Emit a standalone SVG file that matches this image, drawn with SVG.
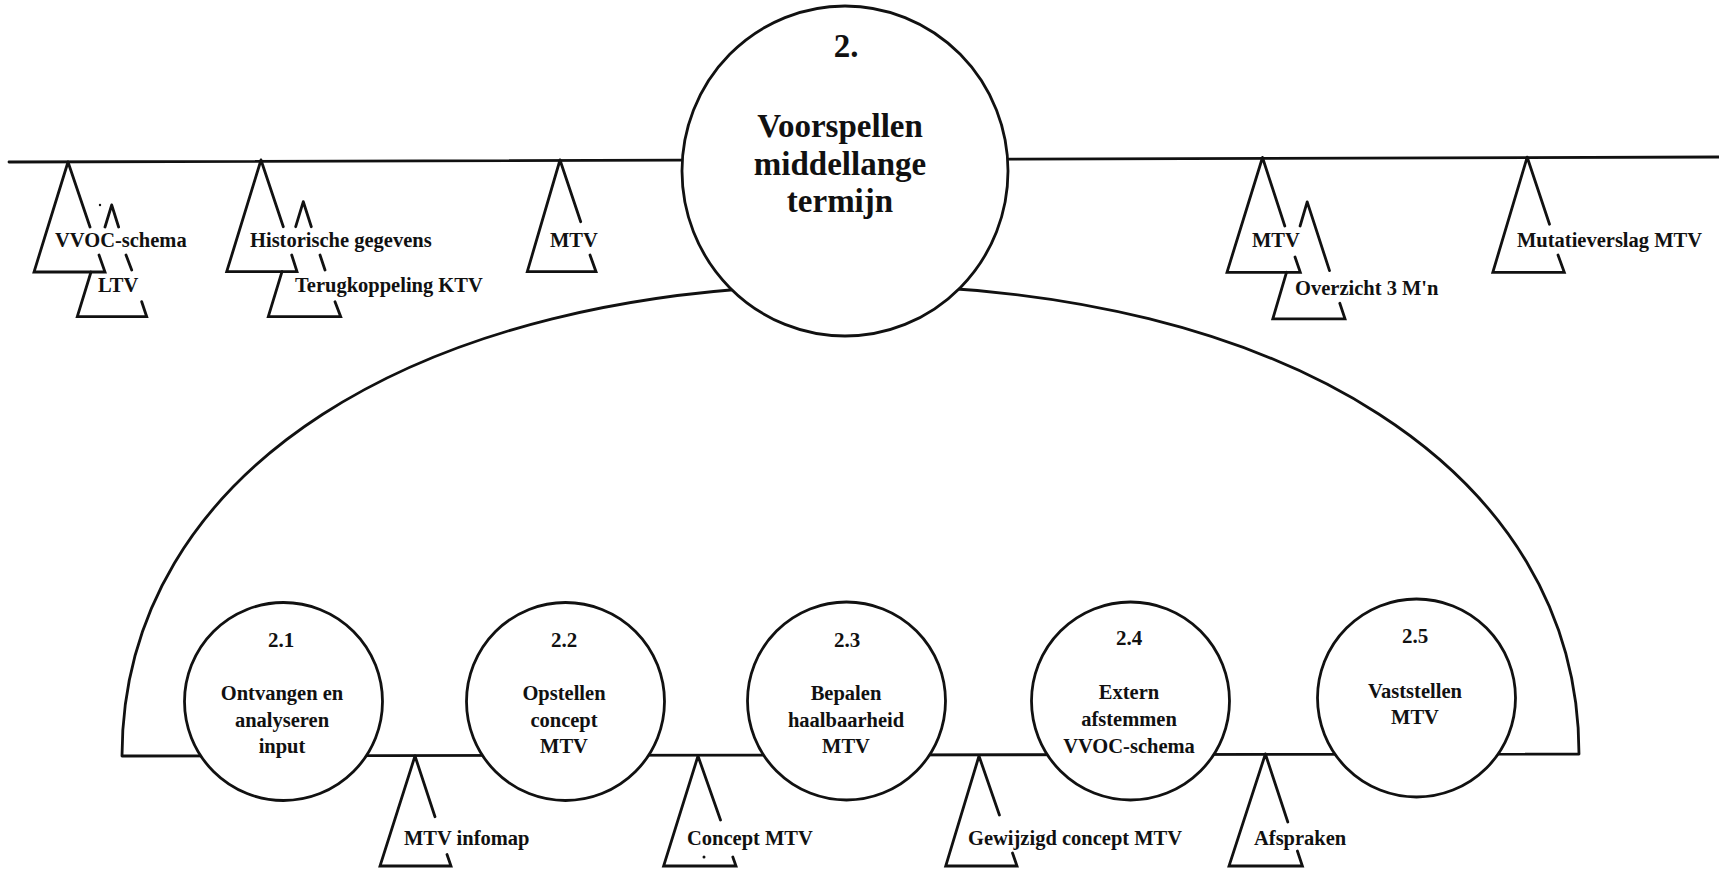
<svg xmlns="http://www.w3.org/2000/svg" width="1719" height="870" viewBox="0 0 1719 870">
  <style>
    .ln { fill: none; stroke: #111; stroke-width: 2.8; stroke-linecap: round; stroke-linejoin: round; }
    .bub { fill: #fff; stroke: #111; stroke-width: 2.8; }
    .ds { fill: none; stroke: #111; stroke-width: 2.8; stroke-linecap: round; stroke-linejoin: miter; }
    text { font-family: "Liberation Serif", "Times New Roman", serif; font-weight: bold; fill: #111; }
    .lbl { font-size: 20.5px; }
    .ttl { font-size: 33px; text-anchor: middle; }
    .num { font-size: 21px; text-anchor: middle; }
    .sub { font-size: 20.5px; text-anchor: middle; }
    .dot { fill: #111; }
  </style>

  <!-- flow lines: upper level line and the lower decomposition frame -->
  <g id="connectors">
    <path class="ln" d="M9,162 L1719,157"/>
    <path class="ln" d="M122,756 C122,473.4 413.4,285 850.5,285 C1287.6,285 1579,472.6 1579,754 L122,756 Z"/>
  </g>

  <!-- main process -->
  <g id="p2">
    <ellipse class="bub" cx="845" cy="171" rx="163" ry="165"/>
    <text class="ttl" x="846" y="57">2.</text>
    <text class="ttl" x="840" y="137">Voorspellen</text>
    <text class="ttl" x="840" y="175">middellange</text>
    <text class="ttl" x="840" y="212">termijn</text>
  </g>

  <!-- sub-processes -->
  <g id="p2-1">
    <circle class="bub" cx="283.5" cy="701.5" r="99"/>
    <text class="num" x="281" y="647">2.1</text>
    <text class="sub" x="282" y="700">Ontvangen en</text>
    <text class="sub" x="282" y="727">analyseren</text>
    <text class="sub" x="282" y="753">input</text>
  </g>
  <g id="p2-2">
    <circle class="bub" cx="565.5" cy="701.5" r="99"/>
    <text class="num" x="564" y="647">2.2</text>
    <text class="sub" x="564" y="700">Opstellen</text>
    <text class="sub" x="564" y="727">concept</text>
    <text class="sub" x="564" y="753">MTV</text>
  </g>
  <g id="p2-3">
    <circle class="bub" cx="846.5" cy="701" r="99"/>
    <text class="num" x="847" y="647">2.3</text>
    <text class="sub" x="846" y="700">Bepalen</text>
    <text class="sub" x="846" y="727">haalbaarheid</text>
    <text class="sub" x="846" y="753">MTV</text>
  </g>
  <g id="p2-4">
    <circle class="bub" cx="1130.5" cy="701" r="99"/>
    <text class="num" x="1129" y="645">2.4</text>
    <text class="sub" x="1129" y="699">Extern</text>
    <text class="sub" x="1129" y="726">afstemmen</text>
    <text class="sub" x="1129" y="753">VVOC-schema</text>
  </g>
  <g id="p2-5">
    <circle class="bub" cx="1416.5" cy="698" r="99"/>
    <text class="num" x="1415" y="643">2.5</text>
    <text class="sub" x="1415" y="698">Vaststellen</text>
    <text class="sub" x="1415" y="724">MTV</text>
  </g>

  <!-- data stores on the upper line -->
  <g id="ds-ltv">
    <path class="ds" d="M111.7,205 L105,227 M91,272 L77.3,316.7 L146.7,316.7 L141.7,301.7 M111.7,205 L118.6,227 M126,255 L131.7,270"/>
    <text class="lbl" x="98" y="292">LTV</text>
  </g>
  <g id="ds-vvoc">
    <path class="ds" d="M68,162 L34,272 L105,272 L99,255 M68,162 L90,227"/>
    <text class="lbl" x="55" y="247">VVOC-schema</text>
    <circle class="dot" cx="100" cy="205" r="1.2"/>
  </g>
  <g id="ds-terugkoppeling">
    <path class="ds" d="M303.3,201.7 L295.7,226.7 M282,271.7 L268.3,316.7 L340.7,316.7 L335,301.7 M303.3,201.7 L311.3,226.7 M320,255 L325,270"/>
    <text class="lbl" x="295" y="292">Terugkoppeling KTV</text>
  </g>
  <g id="ds-historisch">
    <path class="ds" d="M261,160 L226.7,271.7 L297,271.7 L291.7,255 M261,160 L283.3,226.7"/>
    <text class="lbl" x="250" y="247">Historische gegevens</text>
  </g>
  <g id="ds-mtv-in">
    <path class="ds" d="M560,160 L527.3,271.7 L596,271.7 L590,255 M560,160 L580.7,221.7"/>
    <text class="lbl" x="550" y="247">MTV</text>
  </g>
  <g id="ds-overzicht">
    <path class="ds" d="M1307.2,201.9 L1300.1,226 M1286.5,272.3 L1272.8,318.8 L1345,318.8 L1339.8,303.3 M1307.2,201.9 L1329.5,270.6"/>
    <text class="lbl" x="1295" y="295">Overzicht 3 M'n</text>
  </g>
  <g id="ds-mtv-out">
    <path class="ds" d="M1262.5,157.5 L1227,272.3 L1300.3,272.3 L1295,257 M1262.5,157.5 L1284.8,226"/>
    <text class="lbl" x="1252" y="247">MTV</text>
  </g>
  <g id="ds-mutatie">
    <path class="ds" d="M1527.2,157.2 L1492.8,272.3 L1564.3,272.3 L1558,255 M1527.2,157.2 L1549.5,224.2"/>
    <text class="lbl" x="1517" y="247">Mutatieverslag MTV</text>
  </g>

  <!-- data stores between the sub-processes -->
  <g id="ds-infomap">
    <path class="ds" d="M415,756 L380,866 L451,866 L447,854.5 M415,756 L435,816.7"/>
    <text class="lbl" x="404" y="845">MTV infomap</text>
  </g>
  <g id="ds-concept">
    <path class="ds" d="M698,756 L663.6,866 L736,866 L732.8,857 M698,756 L720.5,820"/>
    <text class="lbl" x="687" y="845">Concept MTV</text>
    <circle class="dot" cx="704" cy="857" r="1.5"/>
  </g>
  <g id="ds-gewijzigd">
    <path class="ds" d="M979,756 L945.7,866 L1017,866 L1012.5,853 M979,756 L999.4,815"/>
    <text class="lbl" x="968" y="845">Gewijzigd concept MTV</text>
  </g>
  <g id="ds-afspraken">
    <path class="ds" d="M1265.4,754 L1229,866 L1302.4,866 L1297.4,851 M1265.4,754 L1287.8,822"/>
    <text class="lbl" x="1254" y="845">Afspraken</text>
  </g>
</svg>
